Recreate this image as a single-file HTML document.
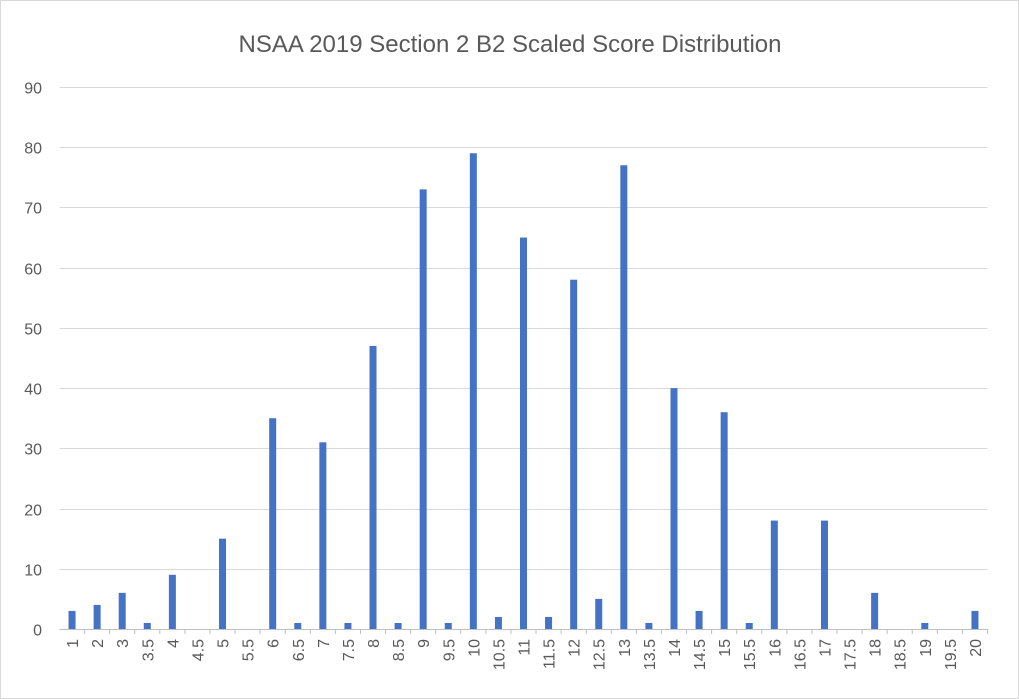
<!DOCTYPE html>
<html><head><meta charset="utf-8"><style>
body{margin:0;background:#fff;}
svg{display:block;font-family:"Liberation Sans",Calibri,sans-serif;}
</style></head><body>
<svg id="chart" width="1019" height="699">
<rect x="0.5" y="0.5" width="1018" height="698" fill="#fff" stroke="#d9d9d9"/>
<text x="510" y="52" text-anchor="middle" font-size="24" fill="#595959">NSAA 2019 Section 2 B2 Scaled Score Distribution</text>
<g id="grid"></g><g id="bars"></g><g id="xlabels"></g><g id="ylabels"></g>
</svg>
<script>
const categories=["1","2","3","3.5","4","4.5","5","5.5","6","6.5","7","7.5","8","8.5","9","9.5","10","10.5","11","11.5","12","12.5","13","13.5","14","14.5","15","15.5","16","16.5","17","17.5","18","18.5","19","19.5","20"];
const values=[3,4,6,1,9,0,15,0,35,1,31,1,47,1,73,1,79,2,65,2,58,5,77,1,40,3,36,1,18,0,18,0,6,0,1,0,3];
const yTicks=[0,10,20,30,40,50,60,70,80,90];
const NS="http://www.w3.org/2000/svg";
const left=59.5,right=987.5,y0=629,yTop=87,yMax=90;
const band=(right-left)/categories.length;
const xPos=i=>left+band*(i+0.5);
const yPos=v=>y0-(v/yMax)*(y0-yTop);
function mk(t,a,p){const e=document.createElementNS(NS,t);for(const k in a)e.setAttribute(k,a[k]);p.appendChild(e);return e;}
const grid=document.getElementById('grid'),bars=document.getElementById('bars'),xl=document.getElementById('xlabels'),yl=document.getElementById('ylabels');
yTicks.forEach(t=>{
 const y=Math.round(yPos(t))+0.5;
 const l=mk('line',{x1:left,x2:right,y1:y,y2:y,stroke:t===0?'#bfbfbf':'#d9d9d9','stroke-width':1},grid);
 
 
 const tx=mk('text',{x:42,y:y+6,'text-anchor':'end','font-size':16,fill:'#595959'},yl);
 tx.textContent=t;
 
 
});
categories.forEach((c,i)=>{
 const x=xPos(i),v=values[i];
 const r=mk('rect',{x:x-3.5,y:yPos(v),width:7,height:y0-yPos(v),fill:'#4472c4'},bars);
 
 
 const tk=mk('line',{x1:x+band/2,x2:x+band/2,y1:y0,y2:y0+5,stroke:'#bfbfbf'},grid);
 
 
 const tx=mk('text',{x:0,y:0,'text-anchor':'end','font-size':16,fill:'#595959',transform:`translate(${x+6},${y0+10}) rotate(-90)`},xl);
 tx.textContent=c;
 
 
});
</script>
</body></html>
